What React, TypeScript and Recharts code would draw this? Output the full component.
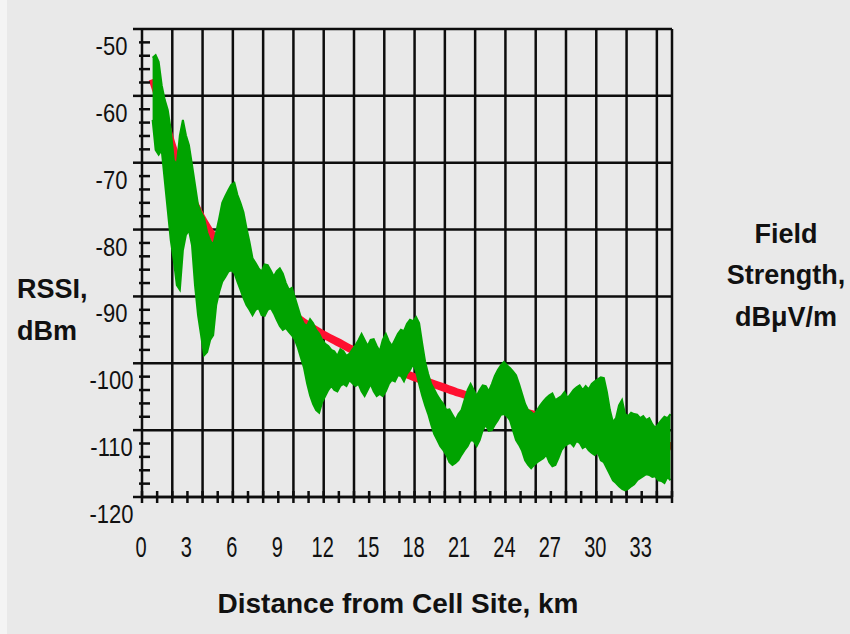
import React from 'react';
import { ComposedChart, Area, XAxis, YAxis, CartesianGrid } from 'recharts';

// Distance grid of the measured (green) trace, km
const DIST_START = 0.7;
const DIST_STEP = 0.2;

// Upper envelope of the measured RSSI trace, dBm
const rssiHigh = [
  -54.3, -53.9, -54.9, -58.4, -60.6, -62.1, -65.1, -69.6, -70.3, -65.9,
  -63.6, -65.9, -67.4, -70.3, -73.3, -76.3, -77.4, -78.3, -80.4, -81.6,
  -82.3, -80.4, -78.3, -76.0, -75.0, -74.1, -73.3, -73.0, -74.8, -76.0,
  -77.4, -79.8, -81.9, -84.3, -85.0, -85.8, -86.3, -85.2, -85.3, -86.1,
  -87.0, -86.2, -85.8, -86.6, -88.0, -89.0, -88.7, -90.2, -91.7, -93.2,
  -94.1, -94.4, -93.4, -94.0, -95.0, -95.6, -96.5, -97.1, -97.4, -98.0,
  -98.2, -98.9, -97.9, -98.2, -98.9, -98.6, -97.9, -97.3, -96.5, -95.6,
  -96.5, -97.4, -96.5, -96.4, -97.4, -98.2, -96.5, -95.6, -96.7, -97.4,
  -96.5, -95.6, -95.0, -95.2, -94.1, -93.5, -93.7, -93.1, -94.0, -97.0,
  -99.8, -101.6, -103.1, -103.9, -104.8, -105.5, -106.1, -107.0, -106.9, -107.7,
  -108.5, -107.6, -107.0, -105.5, -104.0, -103.1, -104.0, -104.9, -104.0, -103.3,
  -103.4, -104.2, -103.1, -101.9, -101.0, -100.3, -99.8, -100.3, -100.7, -101.2,
  -101.8, -103.1, -104.6, -106.1, -107.0, -107.3, -107.7, -107.0, -106.3, -105.7,
  -105.2, -104.8, -104.5, -105.5, -105.2, -104.9, -104.3, -105.2, -104.6, -104.0,
  -103.6, -103.3, -104.0, -103.4, -103.9, -103.1, -102.7, -102.4, -102.1, -102.2,
  -104.3, -107.0, -108.8, -108.2, -106.3, -105.5, -107.6, -107.9, -107.4, -107.6,
  -107.7, -108.2, -107.9, -108.5, -108.2, -109.1, -109.7, -109.1, -108.5, -108.0,
  -108.2, -107.6,
];

// Lower envelope of the measured RSSI trace, dBm
const rssiLow = [
  -63.6, -68.1, -68.8, -68.1, -72.6, -77.1, -81.6, -84.6, -88.3, -89.0,
  -83.1, -80.8, -80.1, -82.3, -88.3, -92.8, -95.8, -98.8, -98.3, -96.5,
  -95.8, -91.3, -89.3, -87.8, -87.1, -86.3, -86.1, -86.5, -87.8, -89.0,
  -90.2, -91.3, -92.0, -92.8, -92.0, -91.7, -92.8, -92.9, -92.0, -91.7,
  -92.5, -93.5, -94.4, -95.0, -94.7, -95.3, -95.8, -96.5, -97.7, -99.2,
  -100.7, -103.0, -104.8, -106.1, -107.0, -107.4, -105.8, -104.9, -104.0, -103.4,
  -104.0, -104.2, -103.4, -103.1, -103.4, -102.5, -103.0, -103.4, -103.1, -104.2,
  -104.9, -104.0, -103.1, -104.2, -104.9, -104.6, -104.9, -104.2, -103.1, -102.5,
  -102.7, -101.8, -101.9, -102.7, -101.6, -101.0, -100.1, -101.2, -103.1, -104.8,
  -106.3, -107.6, -109.2, -110.6, -111.5, -112.4, -113.0, -113.7, -114.8, -115.2,
  -114.9, -114.5, -113.7, -113.0, -112.4, -111.5, -111.6, -112.4, -111.5, -110.0,
  -109.2, -110.1, -110.0, -109.2, -108.5, -107.7, -107.6, -107.9, -108.5, -110.0,
  -111.5, -112.2, -113.1, -114.5, -115.2, -115.7, -115.2, -114.8, -114.5, -114.2,
  -113.7, -114.8, -115.4, -115.2, -114.2, -113.0, -112.4, -112.1, -111.9, -112.4,
  -111.6, -111.9, -112.7, -112.4, -113.0, -113.4, -113.7, -113.3, -114.5, -114.8,
  -115.7, -116.6, -117.5, -117.9, -118.4, -118.8, -119.0, -118.8, -118.4, -118.1,
  -117.5, -117.2, -116.9, -116.6, -116.7, -117.0, -116.9, -117.5, -117.6, -117.9,
  -117.0, -117.5,
];

// Predicted (red) path-loss curve
const modelDist = [
  0.7, 1.1, 1.5, 1.9, 2.5, 2.9, 3.5, 3.9, 4.9, 5.9, 6.9, 7.9, 8.9, 9.9, 10.9,
  11.9, 12.9, 13.9, 14.9, 15.9, 16.9, 17.9, 18.9, 19.9, 20.9, 21.9, 22.9, 23.9,
  24.9, 25.9, 26.9, 27.9, 28.9, 29.9, 30.9, 31.9, 32.9, 33.9, 34.9, 35.0,
];
const modelRssi = [
  -57.5, -60.3, -63.5, -66.8, -70.8, -73.3, -76.3, -78.1, -81.7, -84.6, -87.1,
  -89.1, -91.0, -92.6, -94.2, -95.6, -96.8, -98.0, -99.1, -100.1, -101.1, -102.0,
  -102.8, -103.6, -104.4, -105.1, -105.8, -106.5, -107.1, -107.7, -108.3, -108.9,
  -109.4, -109.9, -110.4, -110.9, -111.4, -111.9, -112.4, -112.5,
];

// Axis ticks
const xTicks = [
  0, 1, 2, 3, 4, 5, 6, 7, 8, 9, 10, 11, 12, 13, 14, 15, 16, 17, 18, 19, 20, 21,
  22, 23, 24, 25, 26, 27, 28, 29, 30, 31, 32, 33, 34, 35,
];
const xLabelled = [0, 3, 6, 9, 12, 15, 18, 21, 24, 27, 30, 33];
const xGrid = [2, 4, 6, 8, 10, 12, 14, 16, 18, 20, 22, 24, 26, 28, 30, 32, 34];
const yTicks = [
  -120, -118, -116, -114, -112, -110, -108, -106, -104, -102, -100, -98, -96, -94,
  -92, -90, -88, -86, -84, -82, -80, -78, -76, -74, -72, -70, -68, -66, -64, -62,
  -60, -58, -56, -54, -52, -50,
];
const yGrid = [-120, -110, -100, -90, -80, -70, -60, -50];
const fieldTicks = [20, 30, 40, 50, 60, 70, 80, 90];

const key = (d: number) => Math.round(d * 10) / 10;

const rowMap = new Map<number, any>();
rssiHigh.forEach((h, i) => {
  const d = key(DIST_START + DIST_STEP * i);
  rowMap.set(d, { d, band: [rssiLow[i], h] });
});
modelDist.forEach((dd, i) => {
  const d = key(dd);
  const row = rowMap.get(d) || { d };
  row.model = modelRssi[i];
  rowMap.set(d, row);
});
const data = Array.from(rowMap.values()).sort((a, b) => a.d - b.d);

const FONT = '"Liberation Sans", Arial, Helvetica, sans-serif';
const INK = '#0d0d0d';

const XTick = (props: any) => {
  const { x, y, payload } = props;
  const v = payload.value;
  return (
    <g>
      <line x1={x} y1={y - 6} x2={x} y2={y + 6} stroke={INK} strokeWidth={2.5} />
      {xLabelled.includes(v) ? (
        <text
          transform={`translate(${x - 1},${y + 60}) scale(1,1.45)`}
          textAnchor="middle"
          fontSize={20}
          fontFamily={FONT}
          fill="#111"
        >
          {v}
        </text>
      ) : null}
    </g>
  );
};

const LeftTick = (props: any) => {
  const { x, y, payload } = props;
  const v = payload.value;
  const major = yGrid.includes(v);
  return (
    <g>
      <line
        x1={major ? x - 9 : x - 3}
        x2={major ? x : x + 8}
        y1={y}
        y2={y}
        stroke={INK}
        strokeWidth={2.5}
      />
      {major ? (
        <text
          transform={`translate(${x - 30.5},${y + 26}) scale(1,1.15)`}
          textAnchor="middle"
          fontSize={22}
          fontFamily={FONT}
          fill="#111"
        >
          {v}
        </text>
      ) : null}
    </g>
  );
};

const RightTick = (props: any) => {
  const { x, y, payload } = props;
  return (
    <text
      transform={`translate(${x + 14},${y + 26}) scale(1,1.15)`}
      textAnchor="start"
      fontSize={22}
      fontFamily={FONT}
      fill="#111"
    >
      {`+${payload.value}`}
    </text>
  );
};

export default function App() {
  return (
    <div
      style={{
        position: 'absolute',
        left: 0,
        top: 0,
        width: 850,
        height: 634,
        background: '#e9e9e9',
        overflow: 'hidden',
      }}
    >
      <div
        style={{
          position: 'absolute',
          left: 0,
          top: 0,
          width: 7,
          height: 634,
          background: '#f4f4f4',
        }}
      />
      <ComposedChart
        width={850}
        height={634}
        data={data}
        margin={{ top: 29, right: 118, bottom: 77, left: 82 }}
      >
        <CartesianGrid
          stroke={INK}
          strokeWidth={2.5}
          horizontalValues={yGrid}
          verticalValues={xGrid}
        />
        <XAxis
          dataKey="d"
          type="number"
          domain={[0, 35]}
          ticks={xTicks}
          interval={0}
          height={60}
          tickSize={0}
          tickMargin={0}
          tickLine={false}
          axisLine={{ stroke: INK, strokeWidth: 2.5 }}
          tick={<XTick />}
          allowDataOverflow
        />
        <YAxis
          yAxisId={0}
          type="number"
          domain={[-120, -50]}
          ticks={yTicks}
          interval={0}
          width={60}
          tickSize={0}
          tickMargin={0}
          tickLine={false}
          axisLine={{ stroke: INK, strokeWidth: 2.5 }}
          tick={<LeftTick />}
          allowDataOverflow
        />
        <YAxis
          yAxisId="right"
          orientation="right"
          type="number"
          domain={[20, 90]}
          ticks={fieldTicks}
          interval={0}
          width={60}
          tickSize={0}
          tickMargin={0}
          tickLine={false}
          axisLine={{ stroke: INK, strokeWidth: 2.5 }}
          tick={<RightTick />}
        />
        <Area
          yAxisId={0}
          dataKey="model"
          type="monotone"
          stroke="#ff1030"
          strokeWidth={8}
          fill="none"
          dot={false}
          activeDot={false}
          connectNulls
          isAnimationActive={false}
        />
        <Area
          yAxisId={0}
          dataKey="band"
          type="linear"
          stroke="#00a300"
          strokeWidth={2}
          fill="#00a300"
          fillOpacity={1}
          dot={false}
          activeDot={false}
          isAnimationActive={false}
        />
      </ComposedChart>
      <svg
        width={850}
        height={634}
        style={{ position: 'absolute', left: 0, top: 0, pointerEvents: 'none' }}
        fontFamily={FONT}
        fontWeight="bold"
        fill="#111"
      >
        <text x={17} y={298} fontSize={27}>RSSI,</text>
        <text x={17} y={340} fontSize={27}>dBm</text>
        <text x={786} y={243} fontSize={27} textAnchor="middle">Field</text>
        <text x={786} y={284} fontSize={27} textAnchor="middle">Strength,</text>
        <text x={786} y={326} fontSize={27} textAnchor="middle">dBμV/m</text>
        <text x={398} y={613} fontSize={28} textAnchor="middle">
          Distance from Cell Site, km
        </text>
      </svg>
    </div>
  );
}
